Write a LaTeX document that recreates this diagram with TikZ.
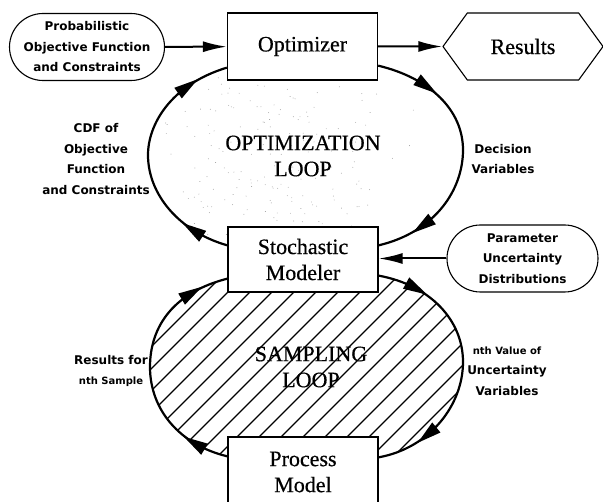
\documentclass[tikz,border=0pt]{standalone}
\usepackage{fontspec}
\setmainfont{Liberation Serif}
\newfontfamily\boxfont{Liberation Serif}[FakeBold=0.5]
\newfontfamily\labfont{DejaVu Sans}
\usetikzlibrary{arrows.meta,shapes.misc,shapes.symbols,decorations.markings,calc}
\pgfdeclarelayer{background}
\pgfsetlayers{background,main}

\begin{document}
\begin{tikzpicture}[x=1pt,y=-1pt,
  box/.style={draw,line width=1.3pt,fill=white,minimum width=150pt,inner sep=0pt,
    align=center,font=\boxfont\fontsize{22}{26}\selectfont},
  pill/.style={draw,line width=1.1pt,fill=white,rounded rectangle,minimum width=155pt,
    minimum height=67pt,inner sep=0pt,align=center,font=\labfont\bfseries\fontsize{12}{20.5}\selectfont},
  lab/.style={align=center,font=\labfont\bfseries\fontsize{12}{20.5}\selectfont},
  big/.style={align=center,font=\boxfont\fontsize{22}{26}\selectfont},
  flow/.style={line width=2pt,-{Latex[length=24pt,width=11pt]}},
  loopline/.style={line width=2.2pt},
  headmark/.style={fill},
  twoheads/.style 2 args={postaction={decorate},decoration={markings,
    mark=at position #1 with {\fill (12pt,0pt) -- (-12pt,6.5pt) -- (-12pt,-6.5pt) -- cycle;},
    mark=at position #2 with {\fill (12pt,0pt) -- (-12pt,6.5pt) -- (-12pt,-6.5pt) -- cycle;}}},
  hatchline/.style={line width=1.1pt},
  speck/.style={fill=black!40}
]
\useasboundingbox (0,0) rectangle (603,502);

% blocks
\node[box,minimum height=67pt] (opt) at (302.5,46.5) {Optimizer};
\node[box,minimum height=65pt] (sm) at (303,259.5) {Stochastic\\Modeler};
\node[box,minimum height=70pt] (pm) at (303,472) {Process\\Model};
\node[pill] (prob) at (87,47) {Probabilistic\\Objective Function\\and Constraints};
\node[pill,minimum width=151pt] (param) at (522.5,258.5) {Parameter\\Uncertainty\\Distributions};
\node[draw,line width=1.1pt,signal,signal to=west and east,signal pointer angle=108,
  minimum width=160pt,minimum height=67pt,inner sep=0pt,font=\boxfont\fontsize{22}{26}\selectfont]
  (res) at (523,46.5) {Results};

% straight connectors
\draw[flow] (prob) -- (opt);
\draw[flow] (opt) -- (res);
\draw[flow] (param.west) -- (sm.east |- param.west);

% end points of the loop curves on the block sides
\coordinate (oL1) at ($(sm.north west)+(0,19)$);
\coordinate (oL2) at ($(opt.south west)+(0,-13)$);
\coordinate (oR1) at ($(opt.south east)+(0,-15)$);
\coordinate (oR2) at ($(sm.north east)+(0,19)$);
\coordinate (sL1) at ($(pm.north west)+(0,20)$);
\coordinate (sL2) at ($(sm.south west)+(0,-14)$);
\coordinate (sR1) at ($(sm.south east)+(0,-17)$);
\coordinate (sR2) at ($(pm.north east)+(0,21)$);

\begin{pgfonlayer}{background}
  % faint stipple inside the optimization loop
  \begin{scope}
    \clip (oL1) .. controls (180,232) and (148,195) .. (148,155)
          .. controls (148,125) and (170,85) .. (oL2) -- (oR1)
          .. controls (430,78) and (463,110) .. (463,150)
          .. controls (463,190) and (435,232) .. (oR2) -- cycle;
    \pgfmathsetseed{4711}
    \foreach \i in {1,...,220}{
      \pgfmathsetmacro\px{148+170*rnd*rnd+150*rnd}
      \pgfmathsetmacro\py{67+180*rnd}
      \fill[speck] (\px,\py) circle (0.45pt);
    }
  \end{scope}
  % hatching inside the sampling loop
  \begin{scope}
    \clip (sL1) .. controls (180,445) and (150,410) .. (150,367)
          .. controls (150,325) and (175,292) .. (sL2) -- (sR1)
          .. controls (430,285) and (463,320) .. (463,362)
          .. controls (463,405) and (430,448) .. (sR2) -- cycle;
    \foreach \k in {0,...,24}{
      \draw[hatchline] (-60+\k*22,470) -- ++(240,-240);
    }
  \end{scope}
\end{pgfonlayer}

% optimization loop
\draw[loopline,twoheads={0.15}{0.83}] (oL1) .. controls (180,232) and (148,195) .. (148,155)
      .. controls (148,125) and (170,85) .. (oL2);
\draw[loopline,twoheads={0.2}{0.82}] (oR1) .. controls (430,78) and (463,110) .. (463,150)
      .. controls (463,190) and (435,232) .. (oR2);
% sampling loop
\draw[loopline,twoheads={0.14}{0.85}] (sL1) .. controls (180,445) and (150,410) .. (150,367)
      .. controls (150,325) and (175,292) .. (sL2);
\draw[loopline,twoheads={0.15}{0.8}] (sR1) .. controls (430,285) and (463,320) .. (463,362)
      .. controls (463,405) and (430,448) .. (sR2);

% loop titles
\node[big] (optloop) at (303,156) {OPTIMIZATION\\LOOP};
\node[big] (samploop) at (311,367) {SAMPLING\\LOOP};

% connector labels
\node[lab] (cdf) at (96,159) {CDF of\\Objective\\Function\\and Constraints};
\node[lab] (dec) at (503,159) {Decision\\Variables};
\node[lab] (resn) at (111,371) {Results for\\{\fontsize{10}{12}\selectfont nth Sample}};
\node[lab] (nval) at (507,371) {{\fontsize{10}{12}\selectfont nth Value of}\\Uncertainty\\Variables};
\end{tikzpicture}
\end{document}
